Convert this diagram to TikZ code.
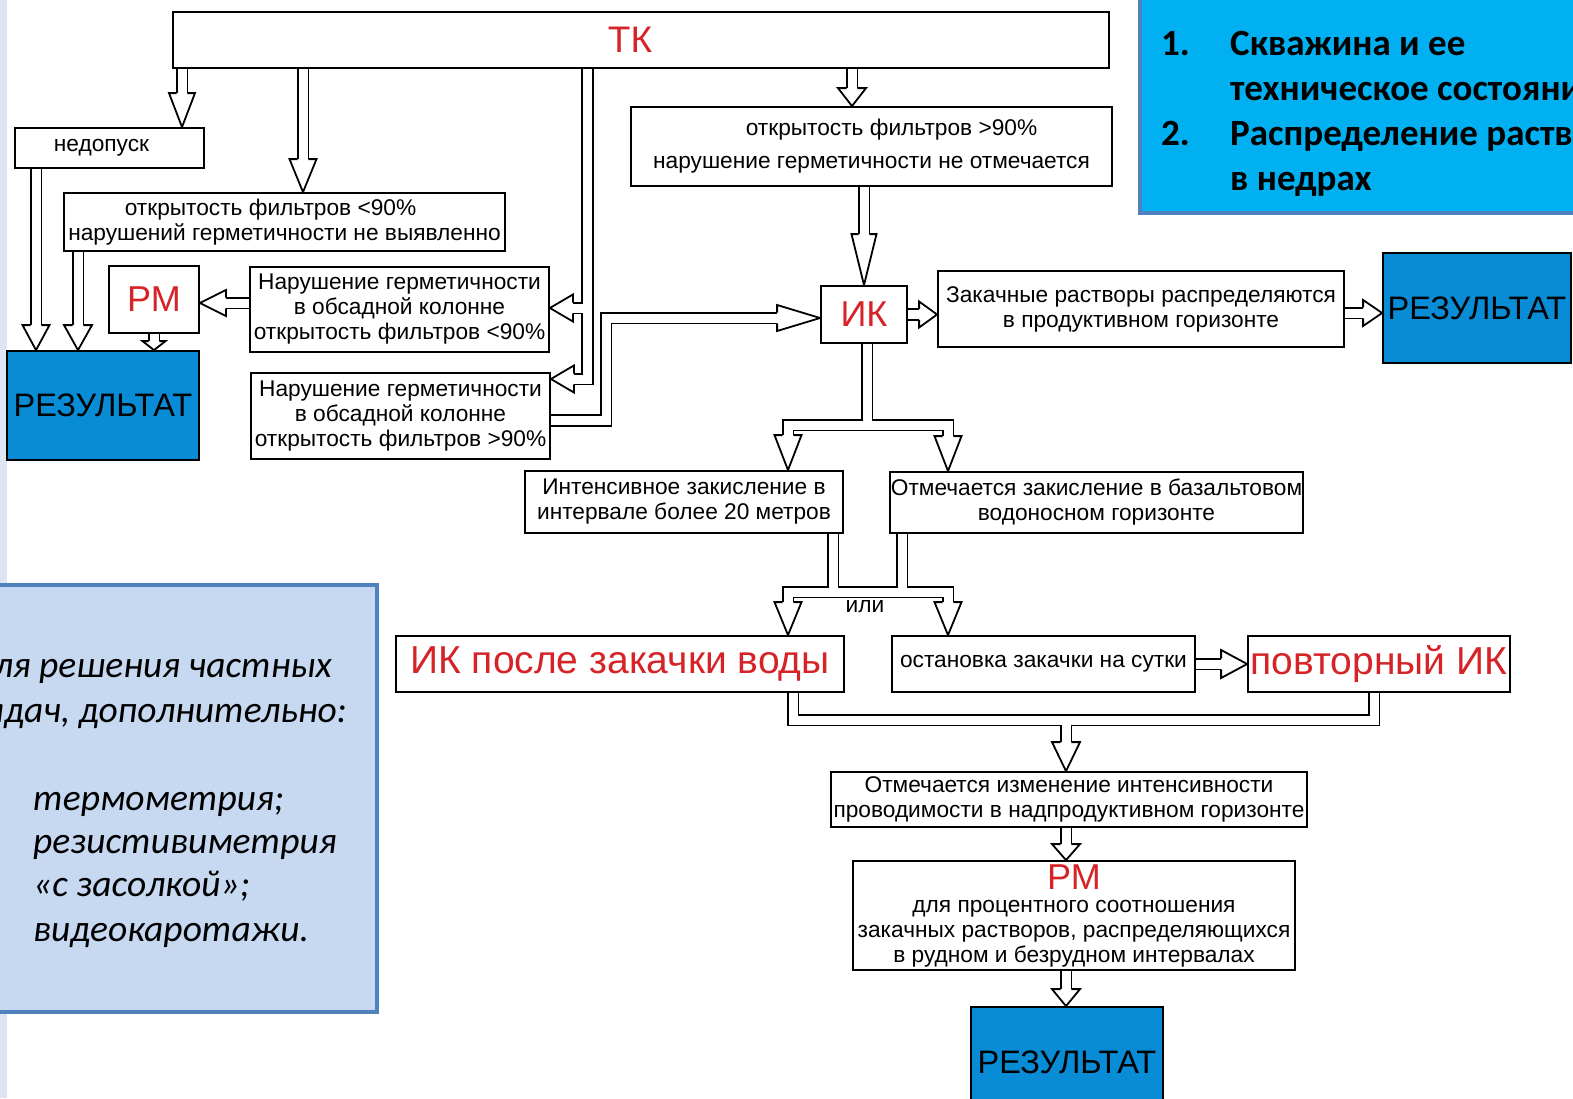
\documentclass[tikz,border=0pt]{standalone}
\usepackage{fontspec}
\setmainfont{Liberation Sans}
\newfontfamily\calib{Carlito}
\usetikzlibrary{backgrounds}
\pgfdeclarelayer{bottom}
\pgfsetlayers{bottom,background,main}
\definecolor{rtext}{RGB}{214,35,40}
\definecolor{resblue}{RGB}{8,140,214}
\definecolor{panelblue}{RGB}{0,176,240}
\definecolor{panelborder}{RGB}{79,129,189}
\definecolor{lightpanel}{RGB}{198,217,241}
\definecolor{stripcol}{RGB}{220,230,242}
\newcommand\dfont{\fontsize{22.7}{25}\selectfont}
\tikzset{
 box/.style={draw=black, line width=1.8pt, fill=white, inner sep=0pt, align=center, font=\dfont},
 resbox/.style={draw=black, line width=1.8pt, fill=resblue, inner sep=0pt, font=\fontsize{32.5}{32.5}\selectfont},
 shaft/.style={draw=black, line width=1.8pt, double=white, double distance=9pt, line join=miter},
 headst/.style={draw=black, fill=white, line width=1.8pt, line join=miter},
 ptext/.style={inner sep=0pt, font=\calib\itshape\fontsize{37.5}{37.5}\selectfont},
 btext/.style={inner sep=0pt, anchor=base west, font=\calib\bfseries\fontsize{37}{37}\selectfont},
}
\newcommand\ahead[4]{\filldraw[headst, shift={#1}, rotate=#2] (-#3,5.4) -- (-#3,#4) -- (0,0) -- (-#3,-#4) -- (-#3,-5.4);}
\begin{document}
\begin{tikzpicture}[x=1pt,y=-1pt]
\useasboundingbox (0,0) rectangle (1573,1098);
\begin{pgfonlayer}{bottom}
\fill[white] (0,0) rectangle (1573,1098);
\fill[stripcol] (0,0) rectangle (7,1098);
\end{pgfonlayer}
\clip (0,0) rectangle (1573,1098);

% panels
\draw[draw=panelborder, line width=4pt, fill=lightpanel] (-20,585) rectangle (377,1012);
\draw[draw=panelborder, line width=4pt, fill=panelblue] (1140,-20) rectangle (1600,213);
\node[ptext, anchor=base east] (p1) at (332,677) {Для решения частных};
\node[ptext, anchor=base east] (p2) at (347,722) {задач, дополнительно:};
\node[ptext, anchor=base west] (p3) at (33,810) {термометрия;};
\node[ptext, anchor=base west] (p4) at (33,853) {резистивиметрия};
\node[ptext, anchor=base west] (p5) at (33,896) {«с засолкой»;};
\node[ptext, anchor=base west] (p6) at (33,941) {видеокаротажи.};
\node[btext] (t1n) at (1161,55) {1.};
\node[btext] (t1) at (1230,55) {Скважина и ее};
\node[btext] (t2) at (1230,100) {техническое состояние};
\node[btext] (t3n) at (1161,145) {2.};
\node[btext] (t3) at (1230,145) {Распределение растворов};
\node[btext] (t4) at (1230,190) {в недрах};

% boxes
\node[box, minimum width=936pt, minimum height=56pt, font=\fontsize{37}{37}\selectfont, text=rtext] (tk) at (641,40) {ТК\hspace*{22pt}};
\node[box, minimum width=189pt, minimum height=40pt] (nedop) at (109.5,148) {недопуск\hspace*{16pt}};
\node[box, minimum width=441pt, minimum height=58pt] (f90l) at (284.5,222) {открытость фильтров <90\%\hspace*{28pt}\\нарушений герметичности не выявленно};
\node[box, minimum width=90pt, minimum height=67pt, font=\fontsize{36}{36}\selectfont, text=rtext] (pm) at (154,299.5) {РМ};
\node[box, minimum width=299pt, minimum height=85pt] (n90l) at (399.5,309.5) {Нарушение герметичности\\в обсадной колонне\\открытость фильтров <90\%};
\node[box, minimum width=299pt, minimum height=86pt] (n90g) at (400.5,416) {Нарушение герметичности\\в обсадной колонне\\открытость фильтров >90\%};
\node[resbox, minimum width=192pt, minimum height=109pt] (resL) at (103,405.5) {РЕЗУЛЬТАТ};
\node[box, minimum width=481pt, minimum height=79pt] (f90g) at (871.5,146.5) {\hspace*{40pt}открытость фильтров >90\%\\[8pt]нарушение герметичности не отмечается};
\node[box, minimum width=86pt, minimum height=57pt, font=\fontsize{36}{36}\selectfont, text=rtext] (ik) at (864,314.5) {ИК};
\node[box, minimum width=406pt, minimum height=76pt] (zak) at (1141,309) {Закачные растворы распределяются\\в продуктивном горизонте};
\node[resbox, minimum width=188pt, minimum height=110pt] (resR) at (1477,308) {РЕЗУЛЬТАТ};
\node[box, minimum width=318pt, minimum height=62pt] (int) at (684,502) {Интенсивное закисление в\\интервале более 20 метров};
\node[box, minimum width=413pt, minimum height=61pt] (otz) at (1096.5,502.5) {Отмечается закисление в базальтовом\\водоносном горизонте};
\node[font=\dfont, inner sep=0pt] (ili) at (865,607) {или};
\node[box, minimum width=448pt, minimum height=56pt, font=\fontsize{39}{39}\selectfont, text=rtext] (ikw) at (620,664) {ИК после закачки воды};
\node[box, minimum width=303pt, minimum height=56pt] (stop) at (1043.5,664) {остановка закачки на сутки};
\node[box, minimum width=262pt, minimum height=56pt, font=\fontsize{39}{39}\selectfont, text=rtext] (rep) at (1379,664) {повторный ИК};
\node[box, minimum width=476pt, minimum height=55pt] (ch) at (1069,799.5) {Отмечается изменение интенсивности\\проводимости в надпродуктивном горизонте};
\node[box, minimum width=442pt, minimum height=109pt] (rmb) at (1074,915.5) {{\fontsize{36}{30}\selectfont\color{rtext}РМ}\\[-2pt]для процентного соотношения\\закачных растворов, распределяющихся\\в рудном и безрудном интервалах};
\node[resbox, minimum width=192pt, minimum height=110pt] (resB) at (1067,1062) {РЕЗУЛЬТАТ};

% connectors
\begin{pgfonlayer}{background}
\draw[shaft] (182,0 |- tk.south) -- (182,94);
\ahead{(182,0 |- nedop.north)}{-90}{34}{13}
\draw[shaft] (303,0 |- tk.south) -- (303,160);
\ahead{(303,0 |- f90l.north)}{-90}{33}{13.5}
\draw[shaft] (852,0 |- tk.south) -- (852,89);
\ahead{(852,0 |- f90g.north)}{-90}{18}{14}
\draw[shaft] (587.5,0 |- tk.south) -- (587.5,379) -- (572.5,379) (587.5,308) -- (572.5,308);
\ahead{(n90l.east |- 0,308)}{180}{23}{13.5}
\ahead{(n90g.east |- 0,379)}{180}{23}{13.5}
\draw[shaft] (36,0 |- nedop.south) -- (36,326);
\ahead{(36,0 |- resL.north)}{-90}{25}{13.5}
\draw[shaft] (78,0 |- f90l.south) -- (78,326);
\ahead{(78,0 |- resL.north)}{-90}{25}{14}
\draw[shaft] (pm.south) -- (154,341);
\ahead{(154,0 |- resL.north)}{-90}{9}{11.5}
\draw[shaft] (n90l.west |- 0,303) -- (224,303);
\ahead{(pm.east |- 0,303)}{180}{26}{13}
\draw[shaft] (n90g.east |- 0,420.5) -- (606,420.5) -- (606,318) -- (777,318);
\ahead{(ik.west |- 0,318)}{0}{43}{13}
\draw[shaft] (864,0 |- f90g.south) -- (864,235);
\ahead{(ik.north)}{-90}{51}{12.5}
\draw[shaft] (ik.east) -- (919,314.5);
\ahead{(zak.west |- ik.east)}{0}{18}{13}
\draw[shaft] (zak.east |- 0,313) -- (1363,313);
\ahead{(resR.west |- 0,313)}{0}{19}{13}
\draw[shaft] (867,0 |- ik.south) -- (867,425) (788,437) -- (788,425) -- (948,425) -- (948,437);
\ahead{(788,0 |- int.north)}{-90}{35}{13.5}
\ahead{(948,0 |- otz.north)}{-90}{35}{13.5}
\draw[shaft] (833,0 |- int.south) -- (833,592) (902,0 |- otz.south) -- (902,592) (788,603) -- (788,592) -- (948,592) -- (948,603);
\ahead{(788,0 |- ikw.north)}{-90}{33}{13.5}
\ahead{(948,0 |- stop.north)}{-90}{33}{13.5}
\draw[shaft] (stop.east) -- (1221,664);
\ahead{(rep.west)}{0}{26}{14}
\draw[shaft] (793,0 |- ikw.south) -- (793,720) -- (1374,720) -- (1374,0 |- rep.south) (1066,720) -- (1066,743);
\ahead{(1066,0 |- ch.north)}{-90}{29}{14}
\draw[shaft] (1066,0 |- ch.south) -- (1066,845);
\ahead{(1066,0 |- rmb.north)}{-90}{16}{14}
\draw[shaft] (1066,0 |- rmb.south) -- (1066,990);
\ahead{(1066,0 |- resB.north)}{-90}{17}{14}
\end{pgfonlayer}
\end{tikzpicture}
\end{document}
